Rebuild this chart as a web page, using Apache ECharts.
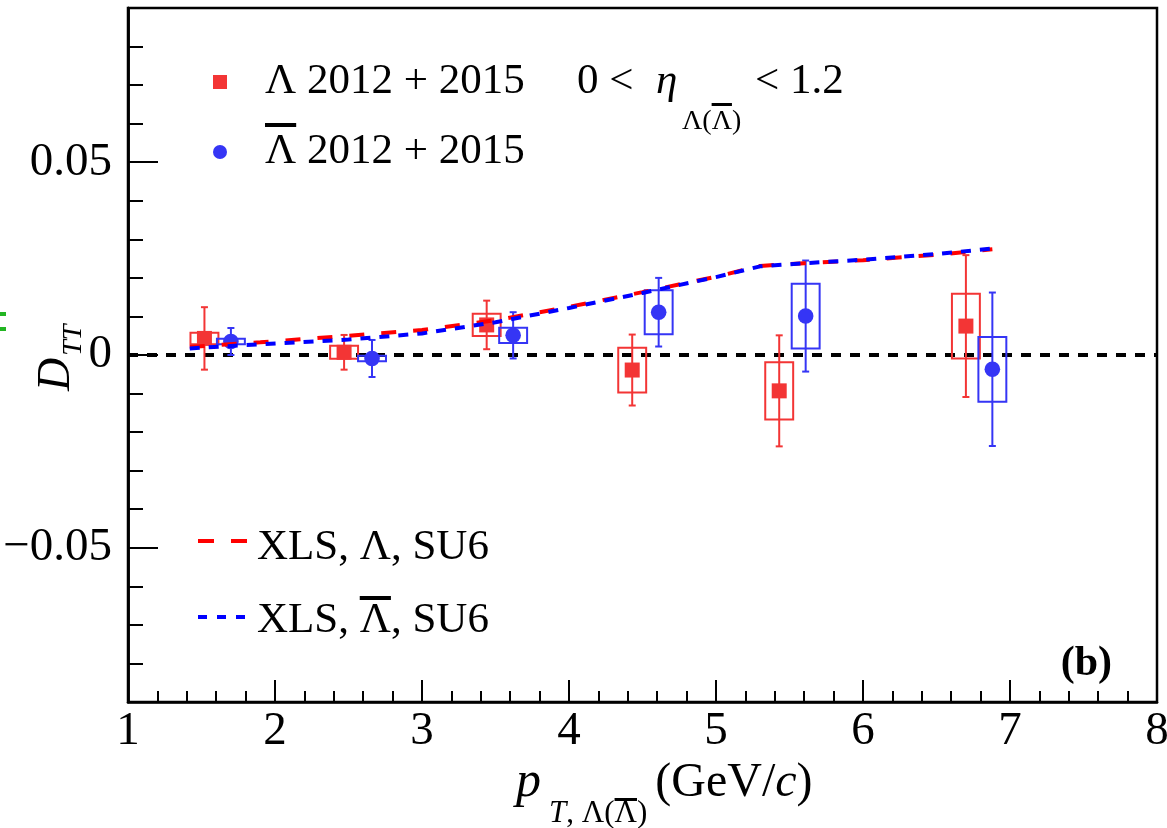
<!DOCTYPE html>
<html><head><meta charset="utf-8">
<script src="https://cdn.jsdelivr.net/npm/echarts@6/dist/echarts.min.js"></script>
<style>html,body{margin:0;padding:0;background:#fff}#c{width:1167px;height:828px}</style>
</head><body><div id="c"></div>
<script>
// ---- data ----
const lamX    = [1.52, 2.47, 3.44, 4.43, 5.43, 6.70];
const lamY    = [0.0043, 0.0007, 0.0078, -0.0039, -0.0093, 0.0075];
const lamStat = [0.0081, 0.0045, 0.0063, 0.0092, 0.0144, 0.0184];
const lamSys  = [0.0015, 0.0017, 0.0029, 0.0058, 0.0074, 0.0084];

const barX    = [1.70, 2.66, 3.62, 4.61, 5.61, 6.88];
const barY    = [0.0035, -0.0009, 0.0051, 0.0111, 0.0101, -0.0037];
const barStat = [0.0035, 0.0048, 0.0060, 0.0089, 0.0144, 0.0199];
const barSys  = [0.0007, 0.0007, 0.0020, 0.0057, 0.0084, 0.0084];

const theoryX   = [1.42, 1.9, 2.5, 3.0, 3.5, 4.0, 4.5, 5.0, 5.3, 5.6, 6.0, 6.5, 6.88];
const theoryLam = [0.0021, 0.0033, 0.0050, 0.0065, 0.0090, 0.0125, 0.0163, 0.0203, 0.0231, 0.0238, 0.0246, 0.0260, 0.0274];
const theoryBar = [0.0017, 0.0028, 0.0040, 0.0056, 0.0085, 0.0122, 0.0161, 0.0202, 0.0230, 0.0238, 0.0247, 0.0262, 0.0276];

const zeroLineX = [1, 8];
const xTickValues = [1, 2, 3, 4, 5, 6, 7, 8];
const yMajorTicks = [-0.05, 0, 0.05];
const yMinorTicks = [-0.09,-0.08,-0.07,-0.06,-0.05,-0.04,-0.03,-0.02,-0.01,0,0.01,0.02,0.03,0.04,0.05,0.06,0.07,0.08,0.09];
const yTickLabels = {'-0.05':'\u22120.05', '0':'0', '0.05':'0.05'};

// ---- styles ----
const FF = '"Liberation Serif","Times New Roman",serif';
const RED = '#f33535', BLUE = '#3535f5';
const BOX_HALF_W = 0.095;

const mctx = document.createElement('canvas').getContext('2d');
function tw(t, font){ mctx.font = font; return mctx.measureText(t).width; }

function pointSeries(name, xs, ys, st, sy, color, shape){
  return {
    type:'custom', name, z:5,
    data: xs.map((x,i)=>[x, ys[i], st[i], sy[i]]),
    encode:{x:0, y:1},
    renderItem:(params, api)=>{
      const x=api.value(0), y=api.value(1), s=api.value(2), b=api.value(3);
      const c=api.coord([x,y]), t=api.coord([x,y+s]), d=api.coord([x,y-s]);
      const p1=api.coord([x-BOX_HALF_W,y+b]), p2=api.coord([x+BOX_HALF_W,y-b]);
      const ls={stroke:color, lineWidth:2, fill:null};
      const ch=[
        {type:'rect', shape:{x:p1[0], y:p1[1], width:p2[0]-p1[0], height:p2[1]-p1[1]}, style:{stroke:color, lineWidth:2, fill:'none'}},
        {type:'line', shape:{x1:c[0], y1:t[1], x2:c[0], y2:d[1]}, style:ls},
        {type:'line', shape:{x1:c[0]-3.5, y1:t[1], x2:c[0]+3.5, y2:t[1]}, style:ls},
        {type:'line', shape:{x1:c[0]-3.5, y1:d[1], x2:c[0]+3.5, y2:d[1]}, style:ls}
      ];
      if(shape==='square') ch.push({type:'rect', shape:{x:c[0]-7.5, y:c[1]-7.5, width:15, height:15}, style:{fill:color}});
      else ch.push({type:'circle', shape:{cx:c[0], cy:c[1], r:7.8}, style:{fill:color}});
      return {type:'group', children:ch};
    }
  };
}

const chart = echarts.init(document.getElementById('c'), null, {renderer:'canvas'});

// ---- graphic texts ----
const F43 = '43px '+FF, F28='28px '+FF;
const g = [];
function txt(x,y,t,font,align){ g.push({type:'text', x, y, z:100, style:{text:t, font, fill:'#000', textAlign:align||'left', textVerticalAlign:'middle'}}); }
function bar(x,y,w,h){ g.push({type:'rect', z:100, shape:{x,y,width:w,height:h}, style:{fill:'#000'}}); }

// legend top
g.push({type:'rect', z:100, shape:{x:213, y:75, width:14, height:14}, style:{fill:RED}});
g.push({type:'circle', z:100, shape:{cx:220, cy:152, r:7}, style:{fill:BLUE}});
txt(265, 82, '\u039B 2012 + 2015', F43);
txt(265, 152, '\u039B 2012 + 2015', F43);
bar(265, 123, tw('\u039B',F43), 4);
txt(577, 82, '0 <', F43);
txt(656, 82, '\u03B7', 'italic '+F43);
const subX = 682;
txt(subX, 122, '\u039B(\u039B)', F28);
bar(subX + tw('\u039B(',F28), 103, tw('\u039B',F28), 3);
txt(755, 82, '< 1.2', F43);

// legend bottom
g.push({type:'line', z:100, shape:{x1:198, y1:541, x2:247, y2:541}, style:{stroke:'#ff0000', lineWidth:4, lineDash:[16,17]}});
g.push({type:'line', z:100, shape:{x1:198, y1:617, x2:247, y2:617}, style:{stroke:'#0000ff', lineWidth:4, lineDash:[9,10]}});
txt(257, 548, 'XLS, \u039B, SU6', F43);
txt(257, 621, 'XLS, \u039B, SU6', F43);
bar(257 + tw('XLS, ',F43), 596, tw('\u039B',F43), 4);

// (b)
txt(1112, 664, '(b)', 'bold 42px '+FF, 'right');

// x title
const F48 = '48px '+FF, F31 = '31px '+FF;
txt(516, 783, 'p', 'italic 50px '+FF);
const sx = 518 + tw('p','italic 50px '+FF) + 6;
txt(sx, 814, 'T', 'italic '+F31);
const sx2 = sx + tw('T','italic '+F31);
txt(sx2, 814, ', \u039B(\u039B)', F31);
bar(sx2 + tw(', \u039B(',F31), 798, tw('\u039B',F31), 3);
txt(sx2 + tw(', \u039B(\u039B)',F31) + 8, 783, '(GeV/', F48);
const cx0 = sx2 + tw(', \u039B(\u039B)',F31) + 8 + tw('(GeV/',F48);
txt(cx0, 783, 'c', 'italic '+F48);
txt(cx0 + tw('c','italic '+F48), 783, ')', F48);

// y title (rotated)
g.push({type:'group', x:57, y:391, rotation:Math.PI/2, z:100, children:[
  {type:'text', x:0, y:0, style:{text:'D', font:'italic 46px '+FF, fill:'#000', textAlign:'left', textVerticalAlign:'middle'}},
  {type:'text', x:tw('D','italic 46px '+FF)+2, y:17, style:{text:'TT', font:'italic 28px '+FF, fill:'#000', textAlign:'left', textVerticalAlign:'middle'}}
]});

// stray green marks at left edge
g.push({type:'rect', z:100, shape:{x:0,y:312,width:6,height:4}, style:{fill:'#22b522'}});
g.push({type:'rect', z:100, shape:{x:0,y:327,width:6,height:4}, style:{fill:'#22b522'}});

const axisLineStyle = {color:'#000', width:2.5};
const option = {
  backgroundColor:'#fff',
  animation:false,
  grid:{left:128, right:10, top:8, bottom:126, containLabel:false, outerBoundsMode:'none',
    show:true, borderColor:'#000', borderWidth:2.5, backgroundColor:'transparent'},
  xAxis:{type:'value', min:1, max:8, interval:1,
    axisLine:{show:true, onZero:false, lineStyle:axisLineStyle},
    axisTick:{show:true, inside:true, length:22, lineStyle:{color:'#000', width:2}},
    minorTick:{show:true, splitNumber:5, length:11, lineStyle:{color:'#000', width:2}},
    axisLabel:{color:'#000', fontFamily:FF, fontSize:47, margin:6,
      customValues:xTickValues, formatter:v=>String(v), hideOverlap:false},
    splitLine:{show:false}, minorSplitLine:{show:false}},
  yAxis:[
    {type:'value', min:-0.09, max:0.09, position:'left',
      axisLine:{show:true, onZero:false, lineStyle:axisLineStyle},
      axisTick:{show:true, inside:true, length:15, customValues:yMinorTicks, lineStyle:{color:'#000', width:2}},
      axisLabel:{color:'#000', fontFamily:FF, fontSize:47, margin:16, customValues:yMajorTicks,
        formatter:v=>{ const k = Math.abs(v)<1e-9 ? '0' : (Math.round(v*100)/100).toString(); return yTickLabels[k]!==undefined?yTickLabels[k]:k; }},
      splitLine:{show:false}},
    {type:'value', min:-0.09, max:0.09, position:'left',
      axisLine:{show:true, onZero:false, lineStyle:axisLineStyle},
      axisTick:{show:true, inside:true, length:30, customValues:yMajorTicks, lineStyle:{color:'#000', width:2}},
      axisLabel:{show:false}, splitLine:{show:false}}
  ],
  series:[
    {type:'line', name:'zero', data:zeroLineX.map(x=>[x,0]), symbol:'none', z:3,
      lineStyle:{color:'#000', width:4, type:[10,9]}},
    pointSeries('Lambda', lamX, lamY, lamStat, lamSys, RED, 'square'),
    pointSeries('AntiLambda', barX, barY, barStat, barSys, BLUE, 'circle'),
    {type:'line', name:'XLS Lambda', data:theoryX.map((x,i)=>[x,theoryLam[i]]), symbol:'none', z:6,
      lineStyle:{color:'#ff0000', width:4, type:[15,17]}},
    {type:'line', name:'XLS AntiLambda', data:theoryX.map((x,i)=>[x,theoryBar[i]]), symbol:'none', z:7,
      lineStyle:{color:'#0000ff', width:4, type:[10,9]}}
  ],
  graphic:g
};
chart.setOption(option);
</script></body></html>
